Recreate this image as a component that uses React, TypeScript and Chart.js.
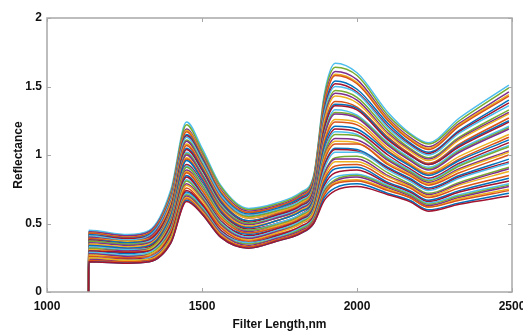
import { useEffect, useRef } from "react";
import { Chart, registerables } from "chart.js";

Chart.register(...registerables);

const wavelengths = [1134, 1135, 1260, 1330, 1400, 1450, 1500, 1560, 1650, 1740, 1820, 1860, 1895, 1930, 2000, 2100, 2170, 2230, 2330, 2490];

const xTicks = [1000, 1500, 2000, 2500];
const yTicks = [0, 0.5, 1, 1.5, 2];

const xTitle = "Filter Length,nm";
const yTitle = "Reflectance";

// Reflectance spectra, roughly lowest to highest
const spectra = [
  [0, 0.22, 0.21, 0.22, 0.36, 0.66, 0.57, 0.40, 0.32, 0.37, 0.43, 0.50, 0.67, 0.74, 0.77, 0.71, 0.66, 0.59, 0.64, 0.70],
  [0, 0.22, 0.21, 0.22, 0.36, 0.67, 0.57, 0.40, 0.32, 0.37, 0.43, 0.50, 0.69, 0.76, 0.79, 0.72, 0.67, 0.60, 0.65, 0.72],
  [0, 0.23, 0.22, 0.23, 0.37, 0.68, 0.58, 0.41, 0.33, 0.38, 0.44, 0.51, 0.71, 0.79, 0.81, 0.74, 0.69, 0.62, 0.67, 0.74],
  [0, 0.25, 0.23, 0.24, 0.39, 0.69, 0.59, 0.42, 0.33, 0.38, 0.44, 0.51, 0.72, 0.80, 0.82, 0.75, 0.69, 0.62, 0.68, 0.75],
  [0, 0.24, 0.22, 0.24, 0.39, 0.70, 0.60, 0.43, 0.34, 0.39, 0.45, 0.52, 0.73, 0.81, 0.84, 0.76, 0.70, 0.63, 0.69, 0.77],
  [0, 0.24, 0.23, 0.24, 0.40, 0.71, 0.61, 0.43, 0.35, 0.39, 0.46, 0.53, 0.74, 0.82, 0.85, 0.77, 0.71, 0.64, 0.70, 0.78],
  [0, 0.25, 0.23, 0.25, 0.40, 0.72, 0.62, 0.44, 0.36, 0.40, 0.47, 0.54, 0.76, 0.84, 0.86, 0.78, 0.72, 0.65, 0.71, 0.79],
  [0, 0.25, 0.24, 0.25, 0.42, 0.74, 0.64, 0.45, 0.36, 0.41, 0.48, 0.55, 0.78, 0.87, 0.89, 0.79, 0.73, 0.66, 0.73, 0.81],
  [0, 0.23, 0.22, 0.23, 0.39, 0.73, 0.63, 0.45, 0.36, 0.41, 0.47, 0.55, 0.80, 0.90, 0.91, 0.80, 0.74, 0.67, 0.74, 0.83],
  [0, 0.26, 0.25, 0.26, 0.43, 0.76, 0.65, 0.47, 0.37, 0.42, 0.48, 0.56, 0.82, 0.92, 0.93, 0.82, 0.76, 0.69, 0.76, 0.85],
  [0, 0.27, 0.25, 0.27, 0.44, 0.78, 0.67, 0.48, 0.38, 0.43, 0.50, 0.58, 0.84, 0.95, 0.95, 0.84, 0.77, 0.70, 0.78, 0.88],
  [0, 0.28, 0.26, 0.27, 0.45, 0.79, 0.68, 0.49, 0.39, 0.44, 0.50, 0.58, 0.86, 0.97, 0.97, 0.85, 0.78, 0.71, 0.79, 0.90],
  [0, 0.28, 0.26, 0.28, 0.46, 0.81, 0.69, 0.50, 0.39, 0.44, 0.51, 0.59, 0.87, 0.98, 0.99, 0.87, 0.79, 0.72, 0.80, 0.91],
  [0, 0.29, 0.27, 0.29, 0.47, 0.82, 0.70, 0.51, 0.40, 0.45, 0.52, 0.60, 0.90, 1.02, 1.02, 0.89, 0.81, 0.74, 0.83, 0.94],
  [0, 0.30, 0.29, 0.30, 0.49, 0.84, 0.71, 0.52, 0.41, 0.46, 0.53, 0.61, 0.92, 1.04, 1.03, 0.90, 0.82, 0.75, 0.84, 0.95],
  [0, 0.30, 0.28, 0.30, 0.49, 0.85, 0.72, 0.52, 0.42, 0.46, 0.53, 0.62, 0.93, 1.05, 1.04, 0.91, 0.83, 0.76, 0.85, 0.97],
  [0, 0.30, 0.29, 0.30, 0.50, 0.87, 0.74, 0.54, 0.43, 0.47, 0.54, 0.63, 0.96, 1.08, 1.08, 0.93, 0.85, 0.78, 0.87, 1.00],
  [0, 0.31, 0.29, 0.31, 0.51, 0.88, 0.75, 0.55, 0.43, 0.48, 0.55, 0.64, 0.98, 1.10, 1.09, 0.94, 0.86, 0.79, 0.89, 1.02],
  [0, 0.31, 0.30, 0.31, 0.52, 0.89, 0.76, 0.55, 0.44, 0.48, 0.55, 0.64, 0.99, 1.12, 1.11, 0.96, 0.87, 0.80, 0.90, 1.03],
  [0, 0.32, 0.30, 0.32, 0.53, 0.91, 0.78, 0.56, 0.45, 0.49, 0.56, 0.65, 1.01, 1.15, 1.14, 0.97, 0.88, 0.81, 0.92, 1.06],
  [0, 0.33, 0.31, 0.32, 0.54, 0.92, 0.79, 0.57, 0.45, 0.50, 0.57, 0.66, 1.03, 1.17, 1.15, 0.98, 0.89, 0.82, 0.93, 1.07],
  [0, 0.33, 0.31, 0.33, 0.54, 0.93, 0.80, 0.58, 0.46, 0.50, 0.57, 0.67, 1.04, 1.19, 1.17, 1.00, 0.90, 0.83, 0.94, 1.09],
  [0, 0.34, 0.32, 0.34, 0.56, 0.96, 0.82, 0.59, 0.47, 0.52, 0.59, 0.68, 1.07, 1.21, 1.19, 1.02, 0.92, 0.85, 0.96, 1.11],
  [0, 0.34, 0.32, 0.34, 0.57, 0.97, 0.83, 0.60, 0.47, 0.52, 0.59, 0.68, 1.09, 1.24, 1.22, 1.03, 0.93, 0.86, 0.97, 1.13],
  [0, 0.35, 0.33, 0.35, 0.58, 0.98, 0.83, 0.61, 0.48, 0.52, 0.60, 0.69, 1.11, 1.26, 1.24, 1.05, 0.94, 0.87, 0.99, 1.15],
  [0, 0.36, 0.34, 0.36, 0.59, 1.00, 0.85, 0.62, 0.49, 0.54, 0.61, 0.71, 1.14, 1.30, 1.27, 1.07, 0.96, 0.89, 1.02, 1.19],
  [0, 0.37, 0.35, 0.36, 0.60, 1.01, 0.86, 0.63, 0.50, 0.54, 0.61, 0.71, 1.15, 1.31, 1.28, 1.08, 0.97, 0.90, 1.03, 1.20],
  [0, 0.37, 0.35, 0.37, 0.60, 1.02, 0.87, 0.64, 0.50, 0.55, 0.62, 0.72, 1.16, 1.33, 1.29, 1.09, 0.98, 0.91, 1.04, 1.21],
  [0, 0.38, 0.35, 0.38, 0.62, 1.04, 0.89, 0.65, 0.51, 0.56, 0.63, 0.73, 1.19, 1.36, 1.33, 1.11, 1.00, 0.93, 1.06, 1.24],
  [0, 0.38, 0.36, 0.38, 0.62, 1.05, 0.90, 0.66, 0.52, 0.56, 0.63, 0.74, 1.20, 1.37, 1.34, 1.12, 1.00, 0.93, 1.07, 1.25],
  [0, 0.39, 0.36, 0.39, 0.63, 1.07, 0.91, 0.67, 0.52, 0.57, 0.64, 0.75, 1.22, 1.39, 1.35, 1.13, 1.01, 0.94, 1.08, 1.27],
  [0, 0.39, 0.37, 0.39, 0.65, 1.08, 0.92, 0.68, 0.54, 0.58, 0.65, 0.76, 1.25, 1.43, 1.38, 1.15, 1.03, 0.96, 1.11, 1.30],
  [0, 0.40, 0.37, 0.40, 0.66, 1.10, 0.93, 0.69, 0.54, 0.58, 0.65, 0.76, 1.27, 1.45, 1.40, 1.16, 1.04, 0.97, 1.12, 1.31],
  [0, 0.40, 0.37, 0.40, 0.66, 1.11, 0.94, 0.69, 0.55, 0.59, 0.66, 0.77, 1.28, 1.47, 1.42, 1.18, 1.05, 0.98, 1.13, 1.33],
  [0, 0.41, 0.38, 0.41, 0.68, 1.13, 0.96, 0.71, 0.56, 0.60, 0.67, 0.78, 1.31, 1.50, 1.45, 1.20, 1.07, 1.00, 1.16, 1.36],
  [0, 0.41, 0.39, 0.41, 0.68, 1.14, 0.97, 0.71, 0.56, 0.60, 0.68, 0.79, 1.32, 1.52, 1.46, 1.21, 1.08, 1.01, 1.17, 1.38],
  [0, 0.42, 0.39, 0.42, 0.69, 1.15, 0.98, 0.72, 0.57, 0.61, 0.69, 0.80, 1.34, 1.54, 1.48, 1.23, 1.09, 1.02, 1.18, 1.40],
  [0, 0.43, 0.40, 0.43, 0.70, 1.17, 0.99, 0.73, 0.58, 0.62, 0.70, 0.81, 1.37, 1.58, 1.52, 1.25, 1.11, 1.04, 1.21, 1.43],
  [0, 0.43, 0.40, 0.43, 0.71, 1.18, 1.00, 0.74, 0.58, 0.62, 0.70, 0.82, 1.38, 1.59, 1.53, 1.26, 1.12, 1.05, 1.22, 1.44],
  [0, 0.44, 0.41, 0.44, 0.72, 1.19, 1.01, 0.75, 0.59, 0.63, 0.71, 0.83, 1.40, 1.61, 1.55, 1.27, 1.13, 1.06, 1.23, 1.46],
  [0, 0.44, 0.41, 0.44, 0.73, 1.22, 1.03, 0.77, 0.60, 0.64, 0.72, 0.84, 1.43, 1.64, 1.58, 1.29, 1.15, 1.08, 1.25, 1.49],
  [0, 0.45, 0.42, 0.45, 0.75, 1.24, 1.05, 0.78, 0.61, 0.65, 0.73, 0.85, 1.45, 1.67, 1.60, 1.31, 1.16, 1.09, 1.27, 1.51],
];

// MATLAB default line colour order
const palette = ["#A2142F", "#0072BD", "#D95319", "#EDB120", "#7E2F8E", "#77AC30", "#4DBEEE"];

const FONT = "'Liberation Sans', Arial, sans-serif";
const AXIS_COLOR = "#a8a8a8";

const boxPlugin = {
  id: "matlabBox",
  afterDatasetsDraw(chart: any) {
    const { ctx, chartArea, scales } = chart;
    const { left, right, top, bottom } = chartArea;
    ctx.save();
    ctx.strokeStyle = AXIS_COLOR;
    ctx.lineWidth = 1.5;
    ctx.strokeRect(left, top, right - left, bottom - top);
    ctx.lineWidth = 1;
    ctx.beginPath();
    const tl = 4;
    scales.x.ticks.forEach((t: any) => {
      const px = Math.round(scales.x.getPixelForValue(t.value)) + 0.5;
      ctx.moveTo(px, bottom);
      ctx.lineTo(px, bottom - tl);
      ctx.moveTo(px, top);
      ctx.lineTo(px, top + tl);
    });
    scales.y.ticks.forEach((t: any) => {
      const py = Math.round(scales.y.getPixelForValue(t.value)) + 0.5;
      ctx.moveTo(left, py);
      ctx.lineTo(left + tl, py);
      ctx.moveTo(right, py);
      ctx.lineTo(right - tl, py);
    });
    ctx.stroke();
    ctx.restore();
  },
};

export default function App() {
  const ref = useRef<HTMLCanvasElement | null>(null);

  useEffect(() => {
    if (!ref.current) return;
    const datasets = spectra.map((row, i) => ({
      label: `Sample ${i + 1}`,
      data: row.map((v, j) => ({ x: wavelengths[j], y: v })),
      borderColor: palette[i % palette.length],
      borderWidth: 1.5,
      pointRadius: 0,
      fill: false,
      cubicInterpolationMode: "monotone" as const,
    }));

    const chart = new Chart(ref.current, {
      type: "line",
      data: { datasets },
      options: {
        animation: false,
        responsive: false,
        events: [],
        layout: { padding: { left: 0, right: 11, top: 18, bottom: 0 } },
        plugins: {
          legend: { display: false },
          tooltip: { enabled: false },
        },
        scales: {
          x: {
            type: "linear",
            min: xTicks[0],
            max: xTicks[xTicks.length - 1],
            afterBuildTicks: (scale: any) => {
              scale.ticks = xTicks.map((v) => ({ value: v }));
            },
            afterFit: (scale: any) => {
              scale.height = 42;
              scale.paddingLeft = 0;
              scale.paddingRight = 0;
            },
            grid: { display: false, drawTicks: false },
            border: { display: false },
            ticks: {
              autoSkip: false,
              maxRotation: 0,
              padding: 7,
              color: "#111",
              font: { family: FONT, size: 12, weight: "bold" },
              callback: (v: any) => String(v),
            },
            title: {
              display: true,
              text: xTitle,
              color: "#111",
              font: { family: FONT, size: 12, weight: "bold" },
              padding: { top: 0, bottom: 2 },
            },
          },
          y: {
            type: "linear",
            min: yTicks[0],
            max: yTicks[yTicks.length - 1],
            afterBuildTicks: (scale: any) => {
              scale.ticks = yTicks.map((v) => ({ value: v }));
            },
            afterFit: (scale: any) => {
              scale.width = 47;
              scale.paddingTop = 0;
              scale.paddingBottom = 0;
            },
            grid: { display: false, drawTicks: false },
            border: { display: false },
            ticks: {
              autoSkip: false,
              padding: 5,
              color: "#111",
              font: { family: FONT, size: 12, weight: "bold" },
              callback: (v: any) => String(v),
            },
            title: {
              display: true,
              text: yTitle,
              color: "#111",
              font: { family: FONT, size: 12, weight: "bold" },
              padding: { top: 11, bottom: 0 },
            },
          },
        },
      },
      plugins: [boxPlugin],
    });
    return () => chart.destroy();
  }, []);

  return (
    <div style={{ position: "fixed", left: 0, top: 0, width: 523, height: 334, background: "#fff" }}>
      <canvas ref={ref} width={523} height={334} style={{ width: 523, height: 334, display: "block" }} />
    </div>
  );
}
